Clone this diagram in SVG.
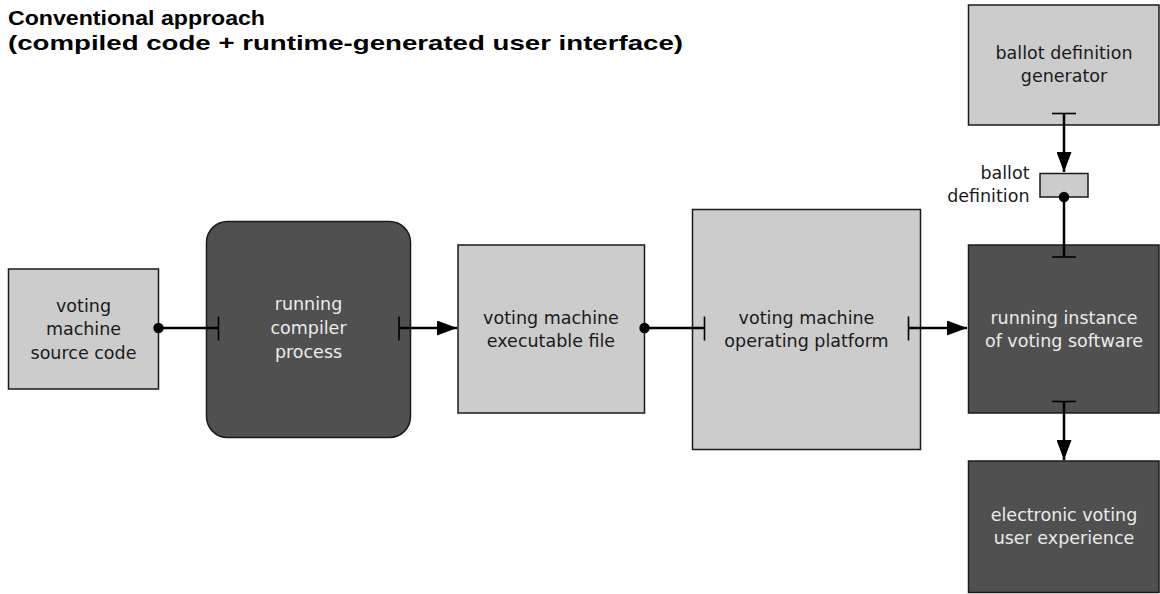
<svg xmlns="http://www.w3.org/2000/svg" width="1160" height="594" viewBox="0 0 1160 594">
<style>
.light{fill:#cccccc;stroke:#1a1a1a;stroke-width:1.5}
.dark{fill:#505050;stroke:#1a1a1a;stroke-width:1.5}
.t{font-family:"DejaVu Sans","Liberation Sans",sans-serif;font-size:17.5px;text-anchor:middle}
.tl{fill:#1a1a1a}
.td{fill:#ebebeb}
.title{font-family:"Liberation Sans","Open Sans",sans-serif;font-weight:700;font-size:21px;fill:#000}
.ln{stroke:#000;stroke-width:2.5;fill:none}
.bar{stroke:#000;stroke-width:1.6;fill:none}
</style>
<defs>
<marker id="arr" viewBox="0 0 20 15" refX="20" refY="7.5" markerWidth="20" markerHeight="15" markerUnits="userSpaceOnUse" orient="auto">
<path d="M0,0 L20,7.5 L0,15 Z" fill="#000"/>
</marker>
</defs>
<rect width="1160" height="594" fill="#fff"/>
<g id="title">
<text class="title" x="8" y="25" textLength="257" lengthAdjust="spacingAndGlyphs">Conventional approach</text>
<text class="title" x="8" y="49.5" textLength="675" lengthAdjust="spacingAndGlyphs">(compiled code + runtime-generated user interface)</text>
</g>
<g id="source-code">
<rect class="light" x="8.5" y="269" width="150" height="120"/>
<text class="t tl" x="83.5" y="311.5">voting</text>
<text class="t tl" x="83.5" y="335">machine</text>
<text class="t tl" x="83.5" y="358.5">source code</text>
</g>
<g id="compiler">
<rect class="dark" x="206.5" y="221.5" width="204" height="216" rx="21" ry="21"/>
<text class="t td" x="308.5" y="310">running</text>
<text class="t td" x="308.5" y="334">compiler</text>
<text class="t td" x="308.5" y="357.5">process</text>
</g>
<g id="executable">
<rect class="light" x="458" y="245" width="186.5" height="168"/>
<text class="t tl" x="551" y="323.5">voting machine</text>
<text class="t tl" x="551" y="347">executable file</text>
</g>
<g id="platform">
<rect class="light" x="692.5" y="209.5" width="228" height="240"/>
<text class="t tl" x="806.5" y="323.5">voting machine</text>
<text class="t tl" x="806.5" y="347">operating platform</text>
</g>
<g id="running-instance">
<rect class="dark" x="968.5" y="245" width="190.5" height="168"/>
<text class="t td" x="1064" y="323.5">running instance</text>
<text class="t td" x="1064" y="347">of voting software</text>
</g>
<g id="generator">
<rect class="light" x="968.5" y="5" width="190.5" height="120"/>
<text class="t tl" x="1064" y="58.5">ballot definition</text>
<text class="t tl" x="1064" y="82">generator</text>
</g>
<g id="ballot-definition">
<rect class="light" x="1040" y="173.5" width="48" height="23.5"/>
<text class="t tl" x="1029.5" y="179" style="text-anchor:end">ballot</text>
<text class="t tl" x="1029.5" y="201.5" style="text-anchor:end">definition</text>
</g>
<g id="user-experience">
<rect class="dark" x="968.5" y="461" width="190.5" height="131.5"/>
<text class="t td" x="1064" y="520.5">electronic voting</text>
<text class="t td" x="1064" y="544">user experience</text>
</g>
<g id="connectors">
<circle cx="158.5" cy="328" r="5.2" fill="#000"/>
<line class="ln" x1="158.5" y1="328" x2="218.5" y2="328"/>
<line class="bar" x1="218.5" y1="316.5" x2="218.5" y2="340.5"/>
<line class="bar" x1="399" y1="316.5" x2="399" y2="340.5"/>
<line class="ln" x1="399" y1="328" x2="457" y2="328" marker-end="url(#arr)"/>
<circle cx="644.5" cy="328" r="5.2" fill="#000"/>
<line class="ln" x1="644.5" y1="328" x2="704.5" y2="328"/>
<line class="bar" x1="704.5" y1="316.5" x2="704.5" y2="340.5"/>
<line class="bar" x1="908.5" y1="316.5" x2="908.5" y2="340.5"/>
<line class="ln" x1="908.5" y1="328" x2="967" y2="328" marker-end="url(#arr)"/>
<line class="bar" x1="1052" y1="113.5" x2="1076" y2="113.5"/>
<line class="ln" x1="1064" y1="113.5" x2="1064" y2="172" marker-end="url(#arr)"/>
<circle cx="1064" cy="197" r="5.2" fill="#000"/>
<line class="ln" x1="1064" y1="197" x2="1064" y2="257"/>
<line class="bar" x1="1052" y1="257" x2="1076" y2="257"/>
<line class="bar" x1="1052" y1="401.5" x2="1076" y2="401.5"/>
<line class="ln" x1="1064" y1="401.5" x2="1064" y2="460" marker-end="url(#arr)"/>
</g>
</svg>
